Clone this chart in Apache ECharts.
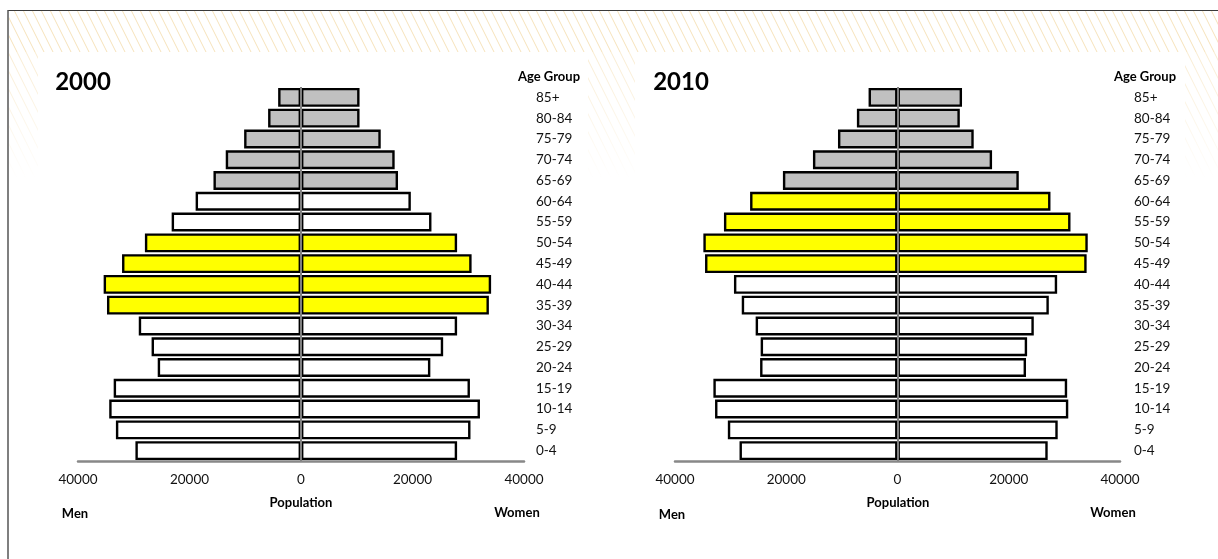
<!DOCTYPE html>
<html>
<head>
<meta charset="utf-8">
<script src="https://cdn.jsdelivr.net/npm/echarts@6/dist/echarts.min.js"></script>
<style>
html,body{margin:0;padding:0;background:#fff;}
#c{width:1218px;height:559px;}
</style>
</head>
<body>
<div id="c"></div>
<script>
// ---- data ----
const ages = ['0-4','5-9','10-14','15-19','20-24','25-29','30-34','35-39','40-44','45-49','50-54','55-59','60-64','65-69','70-74','75-79','80-84','85+'];
const men2000   = [29700,33200,34400,33600,25700,26800,29100,34800,35400,32100,28000,23200,18900,15700,13500,10200,5900,4100];
const women2000 = [28000,30400,32100,30300,23200,25500,28000,33700,34100,30600,28000,23400,19700,17400,16800,14300,10500,10500];
const men2010   = [28400,30500,32800,33100,24700,24600,25500,28000,29400,34600,34900,31200,26500,20600,15200,10700,7300,5200];
const women2010 = [27000,28800,30700,30500,23100,23300,24500,27200,28700,34000,34200,31100,27500,21800,17000,13700,11200,11600];
const seniorGroups = ['65-69','70-74','75-79','80-84','85+'];
const boomers2000 = ['35-39','40-44','45-49','50-54'];
const boomers2010 = ['45-49','50-54','55-59','60-64'];
const years = ['2000','2010'];
const axisMax = 40000, axisStep = 20000;

// ---- hatch pattern ----
const pc = document.createElement('canvas');
pc.width = 9; pc.height = 18;
const g = pc.getContext('2d');
g.strokeStyle = '#F6E2BA';
g.lineWidth = 1;
for (let k = -1; k <= 1; k++) {
  g.beginPath();
  g.moveTo(k * 9, 0);
  g.lineTo(k * 9 + 9, 18);
  g.stroke();
}

const FONT = 'Lato, "Open Sans", sans-serif';

function colorFn(boomers) {
  return function (p) {
    if (seniorGroups.indexOf(p.name) >= 0) return '#C0C0C0';
    if (boomers.indexOf(p.name) >= 0) return '#FFFF00';
    return '#FFFFFF';
  };
}

const grids = [
  {left: 78, right: 1218 - 524, top: 87, bottom: 559 - 461},
  {left: 675, right: 1218 - 1120, top: 87, bottom: 559 - 461}
];

const xAxes = grids.map((gr, i) => ({
  type: 'value', gridIndex: i, min: -axisMax, max: axisMax, interval: axisStep,
  axisLine: {show: true, onZero: false, lineStyle: {color: '#888', width: 2.5}},
  axisTick: {show: false},
  splitLine: {show: false},
  axisLabel: {margin: 12, color: '#111', fontFamily: FONT, fontSize: 13.5,
    formatter: v => String(Math.abs(v))}
}));
const yAxes = grids.map((gr, i) => ({
  type: 'category', gridIndex: i, data: ages, position: 'right',
  axisLine: {show: false}, axisTick: {show: false},
  axisLabel: {margin: i === 0 ? 12 : 14, align: 'left', color: '#111', fontFamily: FONT, fontSize: 13.5}
}));

const datasets = [[men2000, women2000, boomers2000], [men2010, women2010, boomers2010]];
const series = [];
datasets.forEach((d, i) => {
  const barStyle = {color: colorFn(d[2]), borderColor: '#000', borderWidth: 2.4};
  series.push({
    type: 'bar', xAxisIndex: i, yAxisIndex: i, data: d[0].map(v => -v),
    barCategoryGap: '9%', barGap: '-100%', itemStyle: barStyle, silent: true, z: 2
  });
  series.push({
    type: 'bar', xAxisIndex: i, yAxisIndex: i, data: d[1],
    barCategoryGap: '9%', barGap: '-100%', itemStyle: barStyle, silent: true, z: 2
  });
  series.push({
    type: 'line', xAxisIndex: i, yAxisIndex: i, data: [], z: 10, silent: true,
    markLine: {silent: true, symbol: ['none', 'none'], label: {show: false},
      lineStyle: {color: '#808080', width: 2, type: 'solid'}, data: [{xAxis: 0}]}
  });
});

function txt(x, y, s, size, bold, align) {
  return {type: 'text', x: x, y: y, z: 50, style: {text: s, fill: '#000', font: (bold ? 'bold ' : '') + size + 'px ' + FONT,
    textAlign: align || 'center', textVerticalAlign: 'middle'}};
}

const graphic = [
  {type: 'rect', z: -100, silent: true, shape: {x: 9, y: 11, width: 1209, height: 548}, style: {fill: {image: pc, repeat: 'repeat'}}},
  {type: 'rect', z: -99, silent: true, shape: {x: 9, y: 52, width: 1209, height: 507},
    style: {fill: new echarts.graphic.LinearGradient(0, 0, 0, 1, [
      {offset: 0, color: 'rgba(255,255,255,0.3)'}, {offset: 0.25, color: 'rgba(255,255,255,1)'}, {offset: 1, color: '#fff'}])}},
  {type: 'rect', z: -98, silent: true, shape: {x: 38, y: 52, width: 550, height: 507}, style: {fill: '#fff'}},
  {type: 'rect', z: -98, silent: true, shape: {x: 635, y: 52, width: 550, height: 507}, style: {fill: '#fff'}},
  {type: 'line', z: 60, silent: true, shape: {x1: 8, y1: 10.5, x2: 1218, y2: 10.5}, style: {stroke: '#3a3a3a', lineWidth: 1.2}},
  {type: 'line', z: 60, silent: true, shape: {x1: 8, y1: 10, x2: 8, y2: 559}, style: {stroke: '#555', lineWidth: 1.5}},
  txt(83, 82, years[0], 24, true),
  txt(681, 82, years[1], 24, true),
  txt(549, 77, 'Age Group', 13, true),
  txt(1145, 77, 'Age Group', 13, true),
  txt(301, 503, 'Population', 13, true),
  txt(898, 503, 'Population', 13, true),
  txt(75, 514, 'Men', 13, true),
  txt(672, 515, 'Men', 13, true),
  txt(517, 513, 'Women', 13, true),
  txt(1113, 513, 'Women', 13, true)
];

const chart = echarts.init(document.getElementById('c'));
chart.setOption({
  backgroundColor: '#fff',
  animation: false,
  grid: grids,
  xAxis: xAxes,
  yAxis: yAxes,
  series: series,
  graphic: graphic
});
</script>
</body>
</html>
